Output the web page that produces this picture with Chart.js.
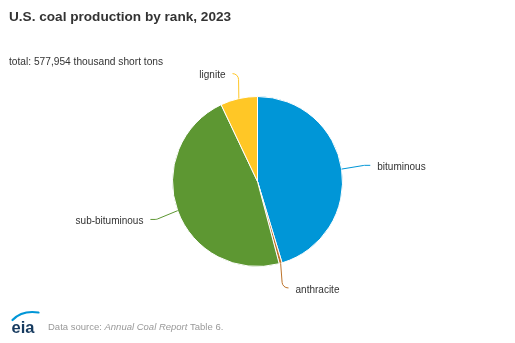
<!DOCTYPE html>
<html>
<head>
<meta charset="utf-8">
<script src="https://cdn.jsdelivr.net/npm/chart.js@4/dist/chart.umd.min.js"></script>
<style>
html,body{margin:0;padding:0;background:#fff;}
#c{display:block;}
</style>
</head>
<body>
<canvas id="c" width="515" height="343"></canvas>
<script>
const categories = ['bituminous', 'anthracite', 'sub-bituminous', 'lignite'];
const production = [262000, 3254, 272000, 40700];
const titleText = 'U.S. coal production by rank, 2023';
const subtitleText = 'total: 577,954 thousand short tons';

const FONT = '"Liberation Sans", Arial, Helvetica, sans-serif';

const labelPlugin = {
  id: 'pieLabels',
  afterDatasetsDraw(chart) {
    const ctx = chart.ctx;
    const meta = chart.getDatasetMeta(0);
    const colors = chart.data.datasets[0].backgroundColor;
    meta.data.forEach((arc, i) => {
      const p = arc.getProps(['x', 'y', 'startAngle', 'endAngle', 'outerRadius'], true);
      const mid = (p.startAngle + p.endAngle) / 2;
      const R = p.outerRadius;
      const d = 29;
      const cos = Math.cos(mid), sin = Math.sin(mid);
      const x0 = p.x + R * cos, y0 = p.y + R * sin;
      const side = cos >= 0 ? 1 : -1;
      const x2 = p.x + (R + d) * cos, y2 = p.y + (R + d) * sin * 0.97;
      const kx = x2 - side * 6, ky = y2;
      ctx.save();
      ctx.strokeStyle = colors[i];
      ctx.lineWidth = 1;
      ctx.beginPath();
      ctx.moveTo(x0, y0);
      ctx.arcTo(kx, ky, x2, y2, 6);
      ctx.lineTo(x2, y2);
      ctx.stroke();
      ctx.fillStyle = '#333333';
      ctx.font = '10px ' + FONT;
      ctx.textBaseline = 'middle';
      ctx.textAlign = side > 0 ? 'left' : 'right';
      ctx.fillText(chart.data.labels[i], x2 + side * 7, y2 + 2);
      ctx.restore();
    });
  }
};

const textPlugin = {
  id: 'texts',
  beforeDraw(chart) {
    const ctx = chart.ctx;
    ctx.save();
    ctx.fillStyle = '#ffffff';
    ctx.fillRect(0, 0, chart.width, chart.height);
    ctx.restore();
  },
  afterDraw(chart) {
    const ctx = chart.ctx;
    ctx.save();
    ctx.textBaseline = 'alphabetic';
    ctx.textAlign = 'left';
    ctx.fillStyle = '#333333';
    ctx.font = 'bold 13.6px ' + FONT;
    ctx.fillText(titleText, 9, 21);
    ctx.font = '10.2px ' + FONT;
    ctx.fillText(subtitleText, 9, 65);

    // footer
    ctx.fillStyle = '#999999';
    let x = 48;
    const y = 330;
    const parts = [['Data source: ', ''], ['Annual Coal Report', 'italic '], [' Table 6.', '']];
    parts.forEach(([t, st]) => {
      ctx.font = st + '9.5px ' + FONT;
      ctx.fillText(t, x, y);
      x += ctx.measureText(t).width;
    });

    // eia logo
    ctx.fillStyle = '#163a5f';
    ctx.font = 'bold 16.5px ' + FONT;
    ctx.fillText('eia', 11.5, 333);
    ctx.strokeStyle = '#0096d7';
    ctx.lineWidth = 2.2;
    ctx.lineCap = 'round';
    ctx.beginPath();
    ctx.moveTo(12.5, 320);
    ctx.quadraticCurveTo(22, 310, 38.5, 312.5);
    ctx.stroke();
    ctx.restore();
  }
};

new Chart(document.getElementById('c'), {
  type: 'pie',
  data: {
    labels: categories,
    datasets: [{
      data: production,
      backgroundColor: ['#0096d7', '#bd732a', '#5d9732', '#ffc726'],
      borderColor: '#ffffff',
      borderWidth: 1,
      hoverOffset: 0
    }]
  },
  options: {
    responsive: false,
    animation: false,
    devicePixelRatio: 1,
    layout: { padding: { top: 96, bottom: 76, left: 0, right: 0 } },
    plugins: {
      legend: { display: false },
      tooltip: { enabled: false },
      title: { display: false }
    }
  },
  plugins: [textPlugin, labelPlugin]
});
</script>
</body>
</html>
